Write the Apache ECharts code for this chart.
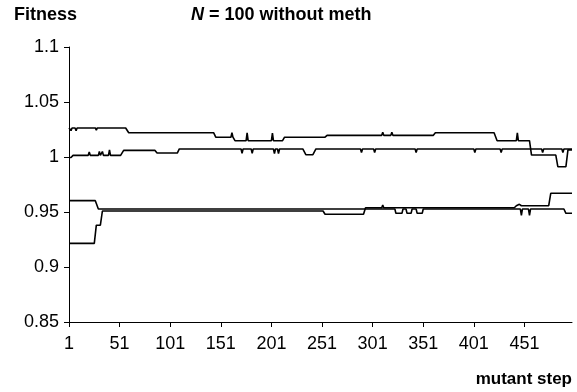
<!DOCTYPE html>
<html lang="en">
<head>
	<meta charset="UTF-8">
	<title>N = 100 without meth</title>
	<script src="https://cdn.jsdelivr.net/npm/echarts@6/dist/echarts.min.js"></script>
	<style>
		html, body { margin: 0; padding: 0; background: #fff; }
		#chart { width: 577px; height: 392px; }
	</style>
</head>
<body>
<div id="chart"></div>
<script>
    // axis ticks
    var xTicks = [1, 51, 101, 151, 201, 251, 301, 351, 401, 451];
    var xMin = 1, xMax = 498;
    var yTicks = [0.85, 0.9, 0.95, 1, 1.05, 1.1];

    // each run: mutant step where the value changes, and the value there
    var stepsA = [1, 2, 3, 4, 7, 8, 9, 27, 28, 29, 57, 60, 144, 146, 161, 162, 163, 165, 176, 177, 178,
        201, 202, 203, 212, 214, 254, 256, 310, 311, 312, 319, 320, 321, 361, 363, 421, 424,
        443, 444, 445, 456, 458, 482, 484, 492, 494, 498];
    var fitA = [1.0264, 1.0264, 1.024, 1.0264, 1.0264, 1.024, 1.0264, 1.0264, 1.0245, 1.0264, 1.0264, 1.022,
        1.022, 1.018, 1.018, 1.022, 1.018, 1.0148, 1.0148, 1.022, 1.0148,
        1.0148, 1.0218, 1.0148, 1.0148, 1.018, 1.018, 1.0197, 1.0197, 1.0225, 1.0197, 1.0197, 1.0225, 1.0197,
        1.0197, 1.022, 1.022, 1.0148, 1.0148, 1.022, 1.0148, 1.0148, 1.0018, 1.0018, 0.9912, 0.9912,
        1.0065, 1.0065];

    var stepsB = [1, 3, 5, 20, 21, 22, 30, 31, 32, 33, 34, 35, 40, 41, 42, 52, 55, 86, 88, 108, 110,
        171, 172, 173, 181, 182, 183, 203, 204, 205, 207, 208, 209, 232, 235, 242, 245,
        289, 290, 291, 302, 303, 304, 343, 344, 345, 401, 402, 403, 427, 428, 429,
        468, 469, 470, 488, 489, 490, 498];
    var fitB = [0.9995, 0.9995, 1.0015, 1.0015, 1.0045, 1.0015, 1.0015, 1.005, 1.0015, 1.0015, 1.005, 1.0015,
        1.0015, 1.0065, 1.0015, 1.0015, 1.006, 1.006, 1.0036, 1.0036, 1.0073,
        1.0073, 1.0034, 1.0073, 1.0073, 1.0034, 1.0073, 1.0073, 1.003, 1.0073, 1.0073, 1.003, 1.0073,
        1.0073, 1.0021, 1.0021, 1.0073,
        1.0073, 1.004, 1.0073, 1.0073, 1.004, 1.0073, 1.0073, 1.004, 1.0073, 1.0073, 1.004, 1.0073,
        1.0073, 1.004, 1.0073, 1.0073, 1.004, 1.0073, 1.0073, 1.004, 1.0073, 1.0073];

    var stepsC = [1, 27, 30, 323, 324, 330, 331, 334, 335, 339, 340, 344, 345, 350, 351,
        447, 448, 449, 455, 456, 457, 490, 492, 498];
    var fitC = [0.9603, 0.9603, 0.9527, 0.9527, 0.9488, 0.9488, 0.9527, 0.9527, 0.9488, 0.9488, 0.9527,
        0.9527, 0.9488, 0.9488, 0.9527, 0.9527, 0.947, 0.9527, 0.9527, 0.947, 0.9527, 0.9527, 0.9488, 0.9488];

    var stepsD = [1, 26, 28, 32, 34, 252, 254, 292, 294, 310, 311, 312, 391, 392, 393, 408, 409, 410,
        418, 419, 420, 441, 443, 446, 448, 475, 477, 498];
    var fitD = [0.9215, 0.9215, 0.938, 0.938, 0.9509, 0.9509, 0.948, 0.948, 0.9539, 0.9539, 0.9564, 0.9539,
        0.9539, 0.955, 0.9539, 0.9539, 0.955, 0.9539, 0.9539, 0.955, 0.9539, 0.9539, 0.9557, 0.957, 0.9557,
        0.9557, 0.967, 0.967];

    function pairs(steps, vals) {
        var out = [];
        for (var i = 0; i < steps.length; i++) out.push([steps[i], vals[i]]);
        return out;
    }

    function lineSeries(steps, vals) {
        return {
            type: 'line',
            data: pairs(steps, vals),
            showSymbol: false,
            symbol: 'none',
            lineStyle: { color: '#000', width: 1.6 },
            silent: true
        };
    }

    var font = '"Liberation Sans", Arial, sans-serif';
    var myChart = echarts.init(document.getElementById('chart'));
    var option = {
        animation: false,
        backgroundColor: '#fff',
        title: [{
            text: 'Fitness',
            left: 9, top: 1,
            textStyle: { fontFamily: font, fontSize: 18, fontWeight: 'bold', color: '#000' }
        }, {
            text: '{i|N} = 100 without meth',
            left: 186, top: 1,
            textStyle: {
                fontFamily: font, fontSize: 18, fontWeight: 'bold', color: '#000',
                rich: { i: { fontFamily: font, fontSize: 18, fontWeight: 'bold', fontStyle: 'italic', color: '#000' } }
            }
        }, {
            text: 'mutant step',
            right: 0, top: 366,
            textStyle: { fontFamily: font, fontSize: 17, fontWeight: 'bold', color: '#000' }
        }],
        grid: { left: 69, right: 5, top: 47, bottom: 70 },
        xAxis: {
            type: 'value',
            min: xMin, max: xMax,
            splitLine: { show: false },
            axisLine: { lineStyle: { color: '#000', width: 1 } },
            axisTick: { customValues: xTicks, length: 5, lineStyle: { color: '#000' } },
            axisLabel: { customValues: xTicks, margin: 13, fontFamily: font, fontSize: 18, color: '#000' }
        },
        yAxis: {
            type: 'value',
            min: 0.85, max: 1.1,
            splitLine: { show: false },
            axisLine: { show: true, lineStyle: { color: '#000', width: 1 } },
            axisTick: { show: true, customValues: yTicks, length: 5, lineStyle: { color: '#000' } },
            axisLabel: { customValues: yTicks, margin: 10, fontFamily: font, fontSize: 18, color: '#000' }
        },
        series: [
            lineSeries(stepsA, fitA),
            lineSeries(stepsB, fitB),
            lineSeries(stepsC, fitC),
            lineSeries(stepsD, fitD)
        ]
    };
    myChart.setOption(option);
</script>
</body>
</html>
